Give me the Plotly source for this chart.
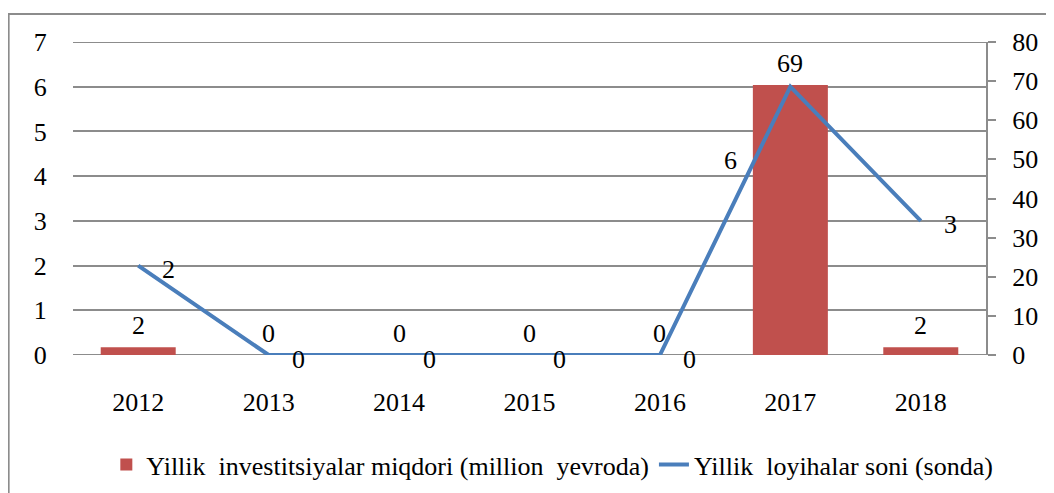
import plotly.graph_objects as go

years = ["2012", "2013", "2014", "2015", "2016", "2017", "2018"]
investments = [2, 0, 0, 0, 0, 69, 2]   # million yevro (right axis)
projects = [2, 0, 0, 0, 0, 6, 3]       # loyihalar soni (left axis)
left_ticks = list(range(0, 8))
right_ticks = list(range(0, 81, 10))

bar_name = "Yillik  investitsiyalar miqdori (million  yevroda)"
line_name = "Yillik  loyihalar soni (sonda)"

FONT = "Liberation Serif"
GRID = "#8c8c8c"
CLEAR = "rgba(0,0,0,0)"
txt = dict(family=FONT, size=26, color="black")

fig = go.Figure()
fig.add_trace(go.Bar(x=years, y=investments, name=bar_name,
                     marker=dict(color="#C0504D", line=dict(width=0)),
                     yaxis="y"))
fig.add_trace(go.Scatter(x=years, y=projects, name=line_name, mode="lines",
                         line=dict(color="#4A7EBB", width=4), yaxis="y2"))
# invisible copy so the right axis line/ticks (y3) always get drawn
fig.add_trace(go.Scatter(x=years, y=investments, mode="markers", yaxis="y3",
                         marker=dict(opacity=0), showlegend=False,
                         hoverinfo="skip"))

# category axis: annotations need the category index, "2012" would be read as 2012
# bar value labels, just above each bar
for i, v in enumerate(investments):
    fig.add_annotation(x=i, y=v, xref="x", yref="y", text=str(v),
                       showarrow=False, yshift=22, font=txt)

# line value labels, to the right of each point (2017 was moved by hand)
shift = {"2017": (-60, -74)}
for i, (yr, v) in enumerate(zip(years, projects)):
    dx, dy = shift.get(yr, (30, -4))
    fig.add_annotation(x=i, y=v, xref="x", yref="y2", text=str(v),
                       showarrow=False, xshift=dx, yshift=dy, font=txt)

# plotly drops gridlines sitting on the plot edges, put them back
for t in (left_ticks[0], left_ticks[-1]):
    fig.add_shape(type="line", xref="paper", yref="y2", x0=0, x1=1, y0=t, y1=t,
                  line=dict(color=GRID, width=2), layer="below")

# chart border
fig.add_shape(type="rect", xref="paper", yref="paper",
              x0=-0.0705, x1=1.09, y0=-0.6, y1=1.0895,
              line=dict(color=GRID, width=2))

fig.update_layout(
    width=1054, height=493,
    margin=dict(l=65, r=76, t=34, b=146, autoexpand=False),
    paper_bgcolor="white", plot_bgcolor="white",
    font=txt,
    bargap=0.425,
    showlegend=True,
    legend=dict(orientation="h", x=0.525, xanchor="center", y=-0.35,
                yanchor="middle", font=txt, traceorder="normal"),
    xaxis=dict(type="category", range=[-0.5, 6.5], showgrid=False,
               showline=False, ticks="outside", ticklen=24, tickcolor=CLEAR,
               tickfont=txt, zeroline=False),
    # right scale: labels only, pushed out with invisible long ticks
    yaxis=dict(side="right", range=[0, 80], tickvals=right_ticks,
               showgrid=False, showline=False, ticks="outside", ticklen=20,
               tickcolor=CLEAR, tickfont=txt, zeroline=False),
    yaxis2=dict(side="left", overlaying="y", range=[0, 7],
                tickvals=left_ticks, showgrid=True, gridcolor=GRID,
                gridwidth=2, showline=False, ticks="outside", ticklen=20,
                tickcolor=CLEAR, tickfont=txt, zeroline=False),
    # right scale: axis line and short ticks
    yaxis3=dict(side="right", overlaying="y", range=[0, 80],
                tickvals=right_ticks, showticklabels=False, showgrid=False,
                showline=True, linecolor=GRID, linewidth=2,
                ticks="outside", ticklen=8, tickcolor=GRID, tickwidth=2,
                zeroline=False),
)

fig.write_html("out.html")
